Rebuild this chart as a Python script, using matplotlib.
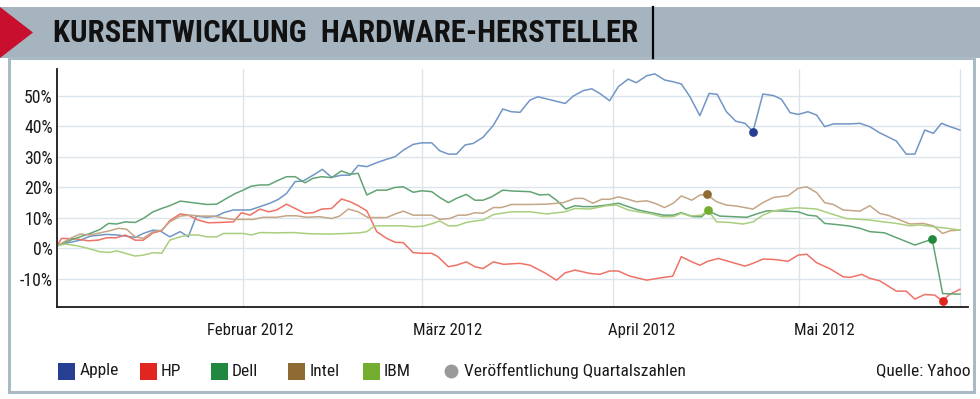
import matplotlib
matplotlib.use("Agg")
import matplotlib.pyplot as plt
from matplotlib import font_manager as fm
from matplotlib.patches import Rectangle, Polygon
from matplotlib.lines import Line2D

# x values: days counted from 1 Jan 2012 (1 Feb = 31, 1 Mar = 60, 1 Apr = 91, 1 May = 121)
apple_days = [1.0, 4.7, 6.3, 9.0, 10.6, 12.2, 13.6, 14.9, 16.5, 17.6, 19.2, 20.9, 22.2, 23.5, 25.2,
              26.8, 27.9, 29.5, 32.2, 33.8, 35.4, 36.8, 38.1, 39.5, 40.8, 42.4, 43.9, 45.4, 47.0,
              48.4, 49.7, 51.1, 52.7, 54.3, 55.7, 57.0, 58.6, 60.0, 61.6, 62.9, 64.3, 65.6, 67.0,
              68.3, 69.9, 71.6, 73.1, 74.5, 75.9, 77.5, 78.8, 80.2, 83.2, 84.5, 86.1, 87.5, 88.8,
              90.4, 91.8, 93.4, 94.7, 96.4, 97.7, 99.3, 100.7, 102.0, 103.4, 105.0, 106.5, 107.8,
              109.3, 110.8, 112.3, 113.6, 115.2, 116.9, 118.2, 119.6, 120.9, 122.5, 123.9, 125.2,
              126.6, 129.3, 130.9, 132.5, 134.1, 136.8, 138.4, 139.8, 141.4, 142.8, 144.1, 145.5, 147.1]
apple_vals = [1.1, 2.7, 4.0, 4.6, 4.4, 4.0, 3.6, 4.9, 6.0, 5.8, 3.8, 5.5, 3.8, 10.6, 10.2,
              10.6, 11.7, 12.6, 12.6, 13.7, 14.8, 16.1, 18.0, 21.9, 22.1, 24.0, 25.9, 23.3, 24.0,
              24.0, 27.2, 26.8, 28.1, 29.2, 30.1, 32.2, 34.1, 34.6, 34.6, 32.0, 30.9, 30.9, 33.9,
              34.4, 36.4, 40.4, 45.7, 44.8, 44.6, 48.6, 49.7, 49.0, 47.5, 49.9, 51.7, 52.3, 50.8,
              48.4, 53.0, 55.5, 54.3, 56.6, 57.2, 55.2, 54.6, 53.9, 49.7, 43.5, 50.8, 50.5,
              44.8, 41.7, 41.0, 38.3, 50.6, 50.1, 48.9, 44.5, 43.9, 44.8, 43.7, 39.9,
              40.8, 40.8, 41.0, 39.9, 37.9, 35.2, 30.9, 30.9, 38.8, 37.7, 41.0, 39.9, 38.8]

hp_days = [1.0, 1.7, 4.1, 6.0, 7.6, 9.0, 10.6, 12.0, 13.6, 14.9, 16.5, 17.9, 19.2, 20.9, 22.2,
           23.8, 25.4, 27.3, 29.5, 30.8, 32.2, 33.8, 35.2, 36.5, 38.1, 39.5, 41.1, 42.4, 43.8,
           45.4, 47.0, 48.4, 49.7, 51.1, 52.7, 54.3, 55.7, 57.0, 58.6, 60.0, 61.6, 62.6, 64.3,
           65.6, 67.2, 68.6, 69.9, 71.6, 73.2, 75.9, 77.5, 79.9, 81.8, 83.2, 84.8, 87.2, 88.8,
           90.4, 91.8, 93.7, 96.4, 98.8, 100.6, 102.0, 103.7, 105.0, 106.3, 108.0, 109.9, 112.3,
           113.6, 115.2, 116.9, 119.3, 120.9, 122.3, 123.9, 126.0, 128.2, 129.3, 131.2, 132.5,
           134.1, 136.8, 138.4, 139.8, 141.4, 143.0, 144.3, 145.4, 147.1]
hp_vals = [1.1, 3.3, 3.1, 2.5, 2.7, 3.5, 3.5, 4.4, 2.7, 2.7, 5.1, 5.8, 9.1, 11.3, 10.9,
           9.3, 8.4, 8.5, 8.7, 11.7, 10.9, 12.9, 12.0, 12.6, 14.5, 13.1, 11.5, 11.7, 12.9,
           13.1, 16.2, 15.3, 14.0, 12.3, 5.5, 3.3, 2.0, 1.9, -1.4, -1.6, -1.6, -2.7, -6.0,
           -5.5, -4.4, -6.0, -6.6, -4.4, -5.2, -4.9, -5.5, -8.0, -10.4, -8.0, -7.1, -8.2, -8.5,
           -7.4, -7.4, -9.1, -10.4, -9.6, -9.1, -2.7, -4.4, -5.5, -4.2, -3.3, -4.4, -5.8,
           -4.9, -3.5, -3.6, -4.2, -2.2, -1.9, -4.7, -6.6, -9.3, -9.5, -8.5, -9.8,
           -10.6, -14.0, -14.0, -16.6, -15.1, -15.3, -17.2, -15.1, -13.4]

dell_days = [1.0, 3.1, 4.7, 6.3, 7.9, 9.3, 10.6, 12.0, 13.6, 14.9, 16.5, 17.9, 19.2, 20.9, 22.5,
             25.2, 26.8, 28.4, 29.8, 31.1, 32.4, 33.8, 35.2, 36.5, 38.1, 39.5, 41.1, 42.4, 43.8,
             45.4, 47.0, 48.4, 49.7, 51.1, 52.7, 54.3, 55.7, 57.0, 58.6, 60.0, 61.6, 62.9, 64.3,
             65.6, 67.2, 68.6, 69.9, 71.3, 73.1, 74.8, 77.5, 79.1, 80.5, 81.8, 83.3, 84.8, 86.1,
             87.7, 89.9, 91.8, 93.4, 95.0, 96.4, 99.1, 100.7, 102.0, 103.9, 105.3, 106.3, 108.2,
             110.4, 112.6, 114.2, 115.8, 117.9, 120.9, 122.5, 123.9, 125.2, 127.7, 129.3, 130.9,
             132.5, 134.9, 137.1, 139.8, 141.4, 142.6, 144.3, 147.1]
dell_vals = [0.8, 2.7, 3.8, 4.9, 6.2, 8.2, 8.0, 8.7, 8.5, 9.8, 12.0, 13.1, 14.0, 15.5, 15.1,
             14.4, 14.5, 16.4, 18.0, 19.1, 20.4, 20.8, 20.8, 22.1, 23.5, 23.5, 21.5, 23.0, 23.5,
             23.2, 25.4, 24.3, 24.6, 17.5, 19.1, 19.1, 20.0, 20.2, 18.4, 18.9, 18.6, 16.7, 15.0,
             16.4, 17.7, 15.8, 15.8, 16.9, 19.1, 18.8, 18.6, 17.5, 17.7, 15.8, 12.9, 14.0, 13.7,
             13.7, 14.2, 14.8, 13.7, 12.6, 12.0, 10.9, 10.9, 11.7, 10.4, 10.4, 12.3, 10.6,
             10.4, 10.2, 11.3, 12.3, 12.3, 12.0, 10.9, 10.6, 8.2, 7.7, 7.3, 6.6,
             5.5, 5.1, 3.3, 1.1, 2.2, 3.0, -14.8, -15.0]

intel_days = [1.0, 3.1, 4.7, 6.3, 7.9, 9.5, 10.9, 12.2, 13.6, 14.9, 16.5, 17.9, 19.2, 20.9, 22.5,
              24.1, 26.2, 28.4, 29.5, 31.1, 32.7, 34.3, 36.5, 38.1, 39.7, 41.3, 43.4, 45.4, 46.7,
              48.1, 49.7, 51.3, 52.7, 54.3, 55.7, 57.0, 58.6, 60.2, 61.6, 62.9, 64.5, 65.9, 67.2,
              68.6, 69.9, 71.6, 72.9, 74.5, 77.5, 80.2, 82.9, 84.8, 86.1, 87.7, 89.1, 90.4, 91.8,
              93.4, 94.7, 96.4, 97.7, 99.3, 100.7, 102.0, 103.7, 105.0, 106.1, 107.7, 109.3, 110.9,
              113.6, 115.2, 116.9, 119.3, 120.9, 122.3, 123.9, 125.2, 126.6, 128.2, 130.9, 132.5,
              134.1, 135.7, 137.4, 139.0, 141.1, 142.8, 144.3, 145.5, 147.1]
intel_vals = [0.9, 3.3, 4.7, 4.4, 5.1, 5.8, 6.6, 6.3, 3.8, 3.3, 5.5, 6.0, 8.7, 10.6, 10.9,
              10.6, 10.6, 9.8, 9.5, 9.5, 9.5, 10.2, 10.2, 10.7, 10.7, 10.2, 10.4, 9.8, 10.6,
              12.9, 12.0, 10.1, 10.1, 10.1, 11.3, 12.2, 10.9, 10.9, 10.9, 9.5, 9.8, 10.9, 10.9,
              11.7, 11.5, 13.4, 13.4, 14.4, 14.4, 14.5, 15.0, 16.4, 16.4, 14.8, 16.1, 16.1, 16.9,
              16.1, 15.3, 15.6, 14.8, 13.4, 14.8, 17.2, 15.8, 17.5, 17.7, 15.3, 14.2, 13.9,
              12.9, 15.0, 16.7, 17.3, 19.7, 20.2, 18.3, 15.0, 14.4, 12.6, 12.2, 14.0,
              11.5, 10.7, 9.3, 8.0, 8.2, 7.4, 4.9, 5.8, 6.0]

ibm_days = [1.0, 2.3, 4.1, 6.0, 7.9, 9.5, 10.6, 12.0, 13.6, 14.9, 16.5, 17.9, 19.2, 20.9, 22.2,
            23.8, 25.2, 26.8, 27.9, 29.5, 31.1, 32.4, 33.8, 36.5, 39.2, 41.9, 45.1, 47.8, 49.9,
            51.1, 52.4, 54.3, 57.0, 58.6, 60.2, 61.8, 62.9, 64.3, 65.6, 67.2, 68.6, 69.9, 71.6,
            74.5, 77.5, 80.2, 83.2, 84.8, 87.2, 89.9, 91.5, 93.4, 95.0, 97.2, 98.8, 100.7, 102.0,
            103.4, 105.3, 106.3, 107.7, 109.9, 112.0, 113.6, 115.2, 116.9, 119.6, 120.9, 122.5,
            123.9, 126.0, 128.7, 130.9, 132.5, 134.7, 136.8, 139.0, 140.6, 142.8, 145.0, 147.1]
ibm_vals = [0.9, 1.4, 0.9, 0.0, -1.1, -1.3, -0.8, -1.6, -2.5, -2.2, -1.4, -1.6, 2.7, 3.8, 4.4,
            4.4, 3.8, 3.8, 4.9, 4.9, 4.9, 4.4, 5.2, 5.1, 5.2, 4.8, 4.7, 4.9, 5.1,
            5.5, 7.4, 7.4, 7.4, 7.1, 7.3, 8.2, 9.0, 7.4, 7.4, 8.5, 9.0, 9.3, 11.1,
            12.0, 12.0, 11.3, 12.0, 13.1, 12.9, 14.0, 14.2, 12.6, 12.0, 11.3, 10.4, 10.4, 11.5,
            10.6, 10.9, 12.6, 8.7, 8.5, 8.0, 8.7, 10.9, 12.3, 13.1, 13.3, 13.1,
            12.9, 11.5, 9.8, 9.5, 9.3, 8.7, 8.2, 7.4, 7.7, 7.1, 6.6, 6.0]

names = ["Apple", "HP", "Dell", "Intel", "IBM"]
series_days = [apple_days, hp_days, dell_days, intel_days, ibm_days]
series_vals = [apple_vals, hp_vals, dell_vals, intel_vals, ibm_vals]
# day of the quarterly report (marked with a dot)
report_days = [113.6, 144.3, 142.6, 106.1, 106.3]

line_colors = ["#7196c6", "#ef7266", "#62a473", "#c4a686", "#a9cf7e"]
key_colors = ["#263f93", "#e0261f", "#21883f", "#8d6b33", "#74ae2f"]

month_labels = ["Februar 2012", "März 2012", "April 2012", "Mai 2012"]
month_starts = [31, 60, 91, 121]
label_days = [32.3, 64.1, 95.6, 125.2]
y_ticks = [-10, 0, 10, 20, 30, 40, 50]

# pick a narrow font if the system has one
fonts = [(f.name, f.stretch) for f in fm.fontManager.ttflist]
names_avail = {n for n, _ in fonts}
STRETCH = "normal"
if "Liberation Sans Narrow" in names_avail:
    FONT = ["Liberation Sans Narrow", "DejaVu Sans"]
elif "Roboto Condensed" in names_avail:
    FONT = ["Roboto Condensed", "DejaVu Sans"]
elif any(n == "DejaVu Sans" and s == "condensed" for n, s in fonts):
    FONT = ["DejaVu Sans"]
    STRETCH = "condensed"
else:
    FONT = ["Roboto", "DejaVu Sans"]

W, H = 980, 399


def fx(x):
    return x / W


def fy(y):
    return 1 - y / H


fig = plt.figure(figsize=(W / 100, H / 100), dpi=100)
fig.patch.set_facecolor("white")

# header bar
fig.patches.append(Rectangle((0, fy(58)), 1, fy(7) - fy(58), transform=fig.transFigure,
                             facecolor="#a5b4be", edgecolor="none", zorder=-2))
fig.patches.append(Polygon([(0, fy(7)), (fx(33), fy(32.5)), (0, fy(58))], closed=True,
                           transform=fig.transFigure, facecolor="#c8102e", edgecolor="none", zorder=-1))
fig.lines.append(Line2D([fx(653), fx(653)], [fy(7), fy(58)], transform=fig.transFigure,
                        color="black", lw=1.6))
# white panel with frame
fig.patches.append(Rectangle((fx(8.5), fy(391.5)), fx(973.5) - fx(8.5), fy(58) - fy(391.5),
                             transform=fig.transFigure, facecolor="white",
                             edgecolor="#a9bac5", lw=2.2, zorder=-2))

title = fig.text(fx(53), fy(32.5), "KURSENTWICKLUNG  HARDWARE-HERSTELLER", family=FONT,
                 fontstretch=STRETCH, fontweight="heavy", fontsize=30, va="center",
                 ha="left", color="#111111")
fig.canvas.draw()
tw = title.get_window_extent().width
title.set_fontsize(30 * 585 / tw)

ax = fig.add_axes([fx(57.3), fy(307), fx(968) - fx(57.3), fy(69) - fy(307)])
ax.set_zorder(2)
ax.set_xlim(1.0, 148.4)
ax.set_ylim(-19.2, 58.8)
ax.patch.set_alpha(0)

last_day = apple_days[-1]
grid_c = "#dde5ec"
for d in month_starts + [last_day]:
    ax.axvline(d, color=grid_c, lw=1.0, zorder=0)
ax.hlines(y_ticks, 1.0, last_day, color=grid_c, lw=1.0, zorder=0)

for d, v, c in zip(series_days, series_vals, line_colors):
    ax.plot(d, v, color=c, lw=1.1, zorder=2)

for d, v, rd, c in zip(series_days, series_vals, report_days, key_colors):
    i = d.index(rd)
    ax.plot(d[i], v[i], "o", color=c, ms=6.3, mec="none", zorder=3)

for s in ["top", "right"]:
    ax.spines[s].set_visible(False)
for s in ["left", "bottom"]:
    ax.spines[s].set_color("#1a1a1a")
    ax.spines[s].set_linewidth(1.3)

ax.set_yticks(y_ticks)
ax.set_yticklabels([f"{t}%" for t in y_ticks], family=FONT, fontstretch=STRETCH,
                   fontsize=12.8, color="#1a1a1a")
ax.set_xticks(label_days)
ax.set_xticklabels(month_labels, family=FONT, fontstretch=STRETCH, fontsize=12,
                   color="#1a1a1a")
ax.tick_params(axis="y", length=0, pad=3.2)
ax.tick_params(axis="x", length=0, pad=11.5)

# key below the chart
key_font = dict(family=FONT, fontstretch=STRETCH, fontsize=12.5, va="center", color="#1a1a1a")
key_x = [58, 139.5, 210.5, 288, 362.5]
for x0, name, c in zip(key_x, names, key_colors):
    fig.patches.append(Rectangle((fx(x0), fy(379.5)), fx(17), fy(362.5) - fy(379.5),
                                 transform=fig.transFigure, facecolor=c, edgecolor="none"))
    fig.text(fx(x0 + 21.5), fy(371), name, ha="left", **key_font)
fig.lines.append(Line2D([fx(450.5)], [fy(370.5)], transform=fig.transFigure, marker="o",
                        ms=10, color="#9a9a9a", mec="none"))
fig.text(fx(463.5), fy(371), "Veröffentlichung Quartalszahlen", ha="left", **key_font)
fig.text(fx(970), fy(371), "Quelle: Yahoo", ha="right", **key_font)

fig.savefig("out.png", dpi=100)
